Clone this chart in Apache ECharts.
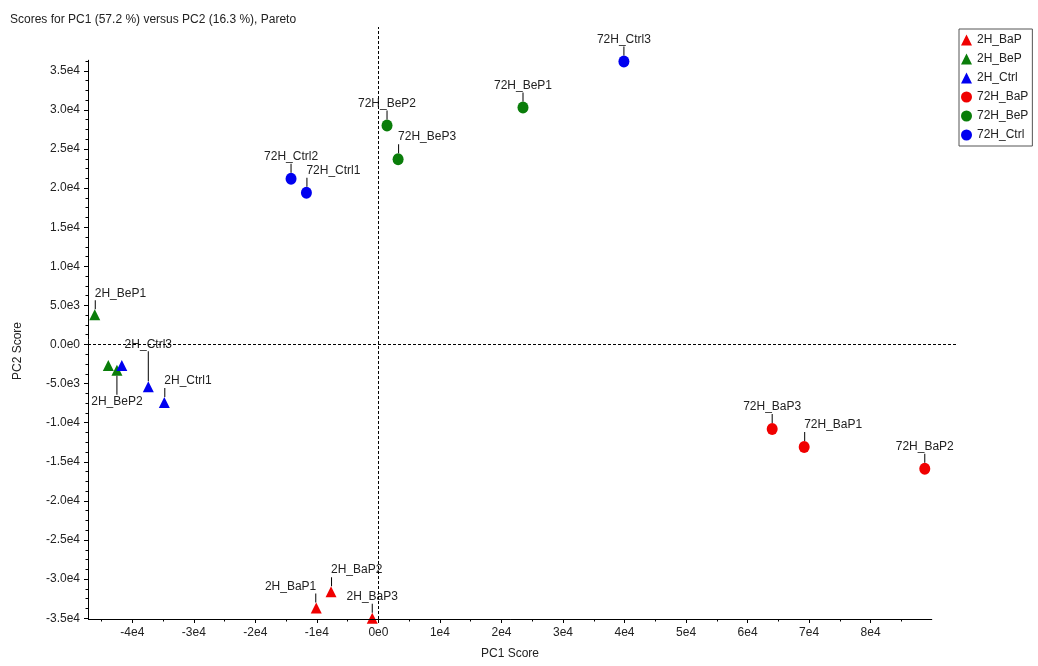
<!DOCTYPE html>
<html><head><meta charset="utf-8">
<script src="https://cdn.jsdelivr.net/npm/echarts@6/dist/echarts.min.js"></script>
<style>html,body{margin:0;padding:0;background:#fff}#c{width:1038px;height:666px}</style>
</head><body><div id="c"></div>
<script>
// ---- data ----
const titleText = 'Scores for PC1 (57.2 %) versus PC2 (16.3 %), Pareto';
const xAxisName = 'PC1 Score';
const yAxisName = 'PC2 Score';

const bap2hNames = ['2H_BaP1', '2H_BaP2', '2H_BaP3'];
const bap2hPC1 = [-10100, -7700, -1000];
const bap2hPC2 = [-33700, -31600, -35000];

const bep2hNames = ['2H_BeP1', '2H_BeP2', '2H_BeP3'];
const bep2hPC1 = [-46100, -42500, -43900];
const bep2hPC2 = [3800, -3300, -2700];

const ctrl2hNames = ['2H_Ctrl1', '2H_Ctrl2', '2H_Ctrl3'];
const ctrl2hPC1 = [-34800, -41700, -37400];
const ctrl2hPC2 = [-7400, -2700, -5400];

const bap72hNames = ['72H_BaP1', '72H_BaP2', '72H_BaP3'];
const bap72hPC1 = [69200, 88800, 64000];
const bap72hPC2 = [-13100, -15900, -10800];

const bep72hNames = ['72H_BeP1', '72H_BeP2', '72H_BeP3'];
const bep72hPC1 = [23500, 1400, 3200];
const bep72hPC2 = [30300, 28000, 23700];

const ctrl72hNames = ['72H_Ctrl1', '72H_Ctrl2', '72H_Ctrl3'];
const ctrl72hPC1 = [-11700, -14200, 39900];
const ctrl72hPC2 = [19400, 21200, 36200];

const xMajorTicks = [-40000, -30000, -20000, -10000, 0, 10000, 20000, 30000, 40000, 50000, 60000, 70000, 80000];
const yMajorTicks = [-35000, -30000, -25000, -20000, -15000, -10000, -5000, 0, 5000, 10000, 15000, 20000, 25000, 30000, 35000];

// ---- axis ranges ----
const X_MIN = -47200, X_MAX = 94200, X_AXIS_END = 90000;
const Y_MIN = -35100, Y_MAX = 40600, Y_AXIS_TOP = 36400;

// ---- layout / style ----
const FONT = '"Liberation Sans", Arial, sans-serif';
const TXT = '#222';
const labelAlign = { '2H_BeP1': 'left', '2H_Ctrl1': 'left', '72H_Ctrl1': 'left', '72H_BeP3': 'left',
  '72H_BaP1': 'left', '2H_BaP2': 'left', '2H_BaP1': 'right' };
const leadLen = { '2H_Ctrl3': 30, '2H_BeP2': 19 };
const labelBelow = { '2H_BeP2': true };
const labelHidden = { '2H_BeP3': true, '2H_Ctrl2': true };

function xMinorTicks() { const r = []; for (let v = -45000; v <= 90000; v += 10000) r.push(v); return r; }
function yMinorTicks() { const r = []; for (let v = -35000; v <= 36250; v += 1250) if (v % 5000 !== 0) r.push(v); return r; }

function fmtX(v) {
  if (Math.abs(v) < 1e-9) return '0e0';
  const e = Math.floor(Math.log10(Math.abs(v)) + 1e-9);
  return (v / Math.pow(10, e)).toFixed(0) + 'e' + e;
}
function fmtY(v) {
  if (Math.abs(v) < 1e-9) return '0.0e0';
  const e = Math.floor(Math.log10(Math.abs(v)) + 1e-9);
  return (v / Math.pow(10, e)).toFixed(1) + 'e' + e;
}

function labelFor(n) {
  if (labelHidden[n]) return { show: false };
  const below = !!labelBelow[n];
  const a = labelAlign[n] || 'center';
  const h = leadLen[n] || 9;
  return {
    show: true,
    position: below ? 'bottom' : 'top',
    distance: 0,
    align: a,
    formatter: function () { return below ? '{ld|}\n{nm|' + n + '}' : '{nm|' + n + '}\n{ld|}'; },
    rich: {
      nm: { fontSize: 12, lineHeight: 14, color: TXT, fontFamily: FONT },
      ld: { width: 1, height: h, backgroundColor: '#000', align: a }
    }
  };
}

function mkSeries(name, names, xs, ys, symbol, color, size) {
  return {
    type: 'scatter', name: name, symbol: symbol, symbolSize: size, z: 3,
    itemStyle: { color: color, opacity: 1 },
    data: names.map((n, i) => ({ name: n, value: [xs[i], ys[i]], label: labelFor(n) }))
  };
}

const RED = '#f00000', GREEN = '#0a7d0a', BLUE = '#0000f0';
const TRI = [11, 11], CIR = [11, 12];

const series = [
  mkSeries('2H_BaP', bap2hNames, bap2hPC1, bap2hPC2, 'triangle', RED, TRI),
  mkSeries('2H_BeP', bep2hNames, bep2hPC1, bep2hPC2, 'triangle', GREEN, TRI),
  mkSeries('2H_Ctrl', ctrl2hNames, ctrl2hPC1, ctrl2hPC2, 'triangle', BLUE, TRI),
  mkSeries('72H_BaP', bap72hNames, bap72hPC1, bap72hPC2, 'circle', RED, CIR),
  mkSeries('72H_BeP', bep72hNames, bep72hPC1, bep72hPC2, 'circle', GREEN, CIR),
  mkSeries('72H_Ctrl', ctrl72hNames, ctrl72hPC1, ctrl72hPC2, 'circle', BLUE, CIR),
  {
    type: 'scatter', name: 'deco', data: [], silent: true, clip: false, z: 1,
    markLine: {
      silent: true, symbol: ['none', 'none'], animation: false, label: { show: false },
      lineStyle: { color: '#000', width: 1, type: [3, 2] },
      emphasis: { disabled: true },
      data: [
        { xAxis: 0 },
        { yAxis: 0 },
        [{ coord: [X_MIN, Y_MIN], lineStyle: { type: 'solid', width: 1 } }, { coord: [X_MIN, Y_AXIS_TOP] }],
        [{ coord: [X_MIN, Y_MIN], lineStyle: { type: 'solid', width: 1 } }, { coord: [X_AXIS_END, Y_MIN] }]
      ]
    }
  }
];

const baseAxis = {
  type: 'value',
  axisLine: { show: false, onZero: false },
  splitLine: { show: false },
  axisTick: { show: true, lineStyle: { color: '#000' } },
  axisLabel: { color: TXT, fontSize: 12, fontFamily: FONT }
};

const option = {
  animation: false,
  backgroundColor: '#fff',
  title: { text: titleText, left: 5, top: 9, textStyle: { fontSize: 12, fontWeight: 'normal', color: TXT, fontFamily: FONT } },
  legend: {
    orient: 'vertical', left: 959, top: 29,
    data: ['2H_BaP', '2H_BeP', '2H_Ctrl', '72H_BaP', '72H_BeP', '72H_Ctrl'],
    itemWidth: 11, itemHeight: 11, itemGap: 7,
    padding: [5, 4, 5, 2],
    borderColor: '#555', borderWidth: 1, backgroundColor: '#fff',
    textStyle: { fontSize: 12, color: TXT, fontFamily: FONT, lineHeight: 12 }
  },
  grid: { left: 88, right: 80, top: 27, bottom: 47, containLabel: false },
  xAxis: [
    Object.assign({}, baseAxis, {
      min: X_MIN, max: X_MAX, position: 'bottom',
      name: xAxisName, nameLocation: 'middle', nameGap: 29,
      nameTextStyle: { fontSize: 12, color: TXT, fontFamily: FONT, padding: [0, 26, 0, 0] },
      axisTick: { show: true, length: 4, customValues: xMajorTicks, lineStyle: { color: '#000' } },
      axisLabel: { color: TXT, fontSize: 12, fontFamily: FONT, margin: 8, customValues: xMajorTicks, formatter: fmtX }
    }),
    Object.assign({}, baseAxis, {
      min: X_MIN, max: X_MAX, position: 'bottom',
      axisTick: { show: true, length: 2.5, customValues: xMinorTicks(), lineStyle: { color: '#000' } },
      axisLabel: { show: false }
    })
  ],
  yAxis: [
    Object.assign({}, baseAxis, {
      min: Y_MIN, max: Y_MAX, position: 'left',
      name: yAxisName, nameLocation: 'middle', nameGap: 64,
      nameTextStyle: { fontSize: 12, color: TXT, fontFamily: FONT, padding: [0, 56, 0, 0] },
      axisTick: { show: true, length: 4, customValues: yMajorTicks, lineStyle: { color: '#000' } },
      axisLabel: { color: TXT, fontSize: 12, fontFamily: FONT, margin: 8, customValues: yMajorTicks, formatter: fmtY }
    }),
    Object.assign({}, baseAxis, {
      min: Y_MIN, max: Y_MAX, position: 'left',
      axisTick: { show: true, length: 2.5, customValues: yMinorTicks(), lineStyle: { color: '#000' } },
      axisLabel: { show: false }
    })
  ],
  series: series
};

const chart = echarts.init(document.getElementById('c'), null, { renderer: 'canvas' });
chart.setOption(option);
</script>
</body></html>
